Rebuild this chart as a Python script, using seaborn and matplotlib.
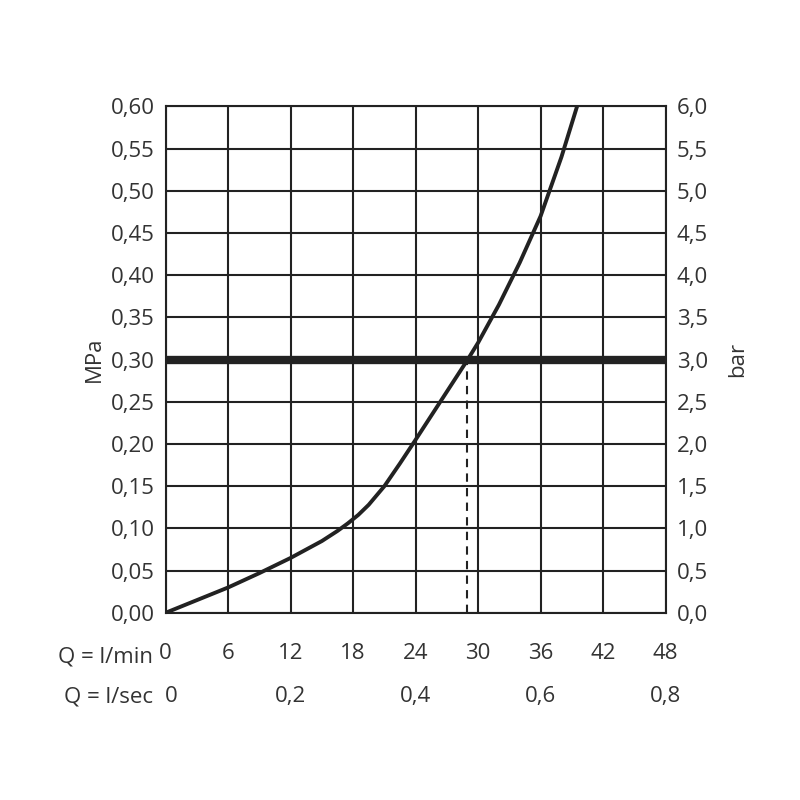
import matplotlib
matplotlib.use("Agg")
import matplotlib.pyplot as plt
import seaborn as sns
import numpy as np

flow_lmin = [0, 3, 6, 9, 12, 15, 16.5, 17.5, 18.5, 19.5, 21, 22.5, 24, 26, 28, 29, 30, 32, 34, 36, 38, 39.5]
pressure = [0, 0.015, 0.03, 0.047, 0.065, 0.085, 0.097, 0.106, 0.116, 0.128, 0.15, 0.177, 0.205, 0.243, 0.281, 0.30, 0.32, 0.365, 0.415, 0.47, 0.54, 0.60]
operating_p = 0.30
operating_q = 28.9
x_ticks = [0, 6, 12, 18, 24, 30, 36, 42, 48]
lsec_labels = ["0", "0,2", "0,4", "0,6", "0,8"]
lsec_pos = [0, 12, 24, 36, 48]

sns.set_style("white")
plt.rcParams['font.family'] = ['Open Sans', 'DejaVu Sans']
col = "#333333"
fig = plt.figure(figsize=(8, 8), dpi=100)
ax = fig.add_axes([0.207, 0.234, 0.625, 0.633])
sns.lineplot(x=flow_lmin, y=pressure, ax=ax, color="#222222", lw=2.8)
ax.axhline(operating_p, color="#222222", lw=6, zorder=3)
ax.plot([operating_q, operating_q], [0, operating_p], ls=(0, (4, 3)), color="#222222", lw=1.5)
ax.set_xlim(0, 48)
ax.set_ylim(0, 0.6)
ax.set_xticks(x_ticks)
yt = np.round(np.arange(0, 0.601, 0.05), 2)
ax.set_yticks(yt)
ax.set_yticklabels([f"{v:.2f}".replace(".", ",") for v in yt], fontsize=16, color=col)
ax.set_xticklabels([str(v) for v in x_ticks], fontsize=16, color=col)
ax.grid(True, color="#222222", lw=1.5)
for s in ax.spines.values():
    s.set_color("#222222"); s.set_linewidth(1.5)
ax.tick_params(axis="y", length=0, pad=8)
ax.tick_params(axis="x", length=0, pad=22)
ax.set_ylabel("MPa", fontsize=16, color=col)
ax.set_xlabel("")
ax2 = ax.twinx()
ax2.set_ylim(0, 6)
bt = np.arange(0, 6.01, 0.5)
ax2.set_yticks(bt)
ax2.set_yticklabels([f"{v:.1f}".replace(".", ",") for v in bt], fontsize=16, color=col)
ax2.tick_params(length=0, pad=8)
ax2.set_ylabel("bar", fontsize=16, color=col, rotation=90, labelpad=14)
for s in ax2.spines.values():
    s.set_visible(False)
tr = ax.get_xaxis_transform()
ax.text(-1.2, -0.087, "Q = l/min", transform=tr, ha="right", va="center", fontsize=16, color=col)
ax.text(-1.2, -0.166, "Q = l/sec", transform=tr, ha="right", va="center", fontsize=16, color=col)
for p, l in zip(lsec_pos, lsec_labels):
    ax.text(p + (0.5 if p == 0 else 0), -0.166, l, transform=tr, ha="center", va="center", fontsize=16, color=col)
fig.savefig("out.png")
